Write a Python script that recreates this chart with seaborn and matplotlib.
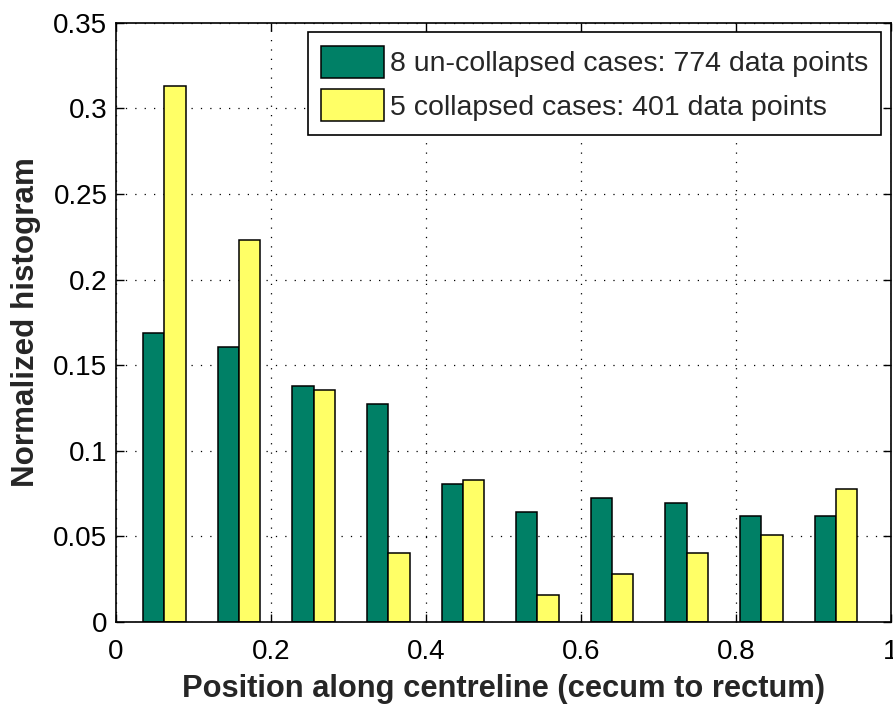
import matplotlib
matplotlib.use("Agg")
import matplotlib.pyplot as plt
import pandas as pd
import seaborn as sns
from matplotlib.ticker import FixedLocator, FixedFormatter

# Normalized histograms of positions along the colon centreline
bin_centres = [0.0628, 0.1590, 0.2553, 0.3516, 0.4478, 0.5441, 0.6403, 0.7365, 0.8328, 0.9290]
uncollapsed = [0.1687, 0.1605, 0.1377, 0.1272, 0.0808, 0.0643, 0.0725, 0.0695, 0.0620, 0.0620]
collapsed = [0.3129, 0.2233, 0.1358, 0.0401, 0.0828, 0.0156, 0.0279, 0.0401, 0.0507, 0.0776]
series_labels = ["8 un-collapsed cases: 774 data points",
                 "5 collapsed cases: 401 data points"]
series_colors = ["#008066", "#FFFF66"]

x_ticks = [0, 0.2, 0.4, 0.6, 0.8, 1.0]
x_tick_labels = ["0", "0.2", "0.4", "0.6", "0.8", "1"]
y_ticks = [0, 0.05, 0.10, 0.15, 0.20, 0.25, 0.30, 0.35]
y_tick_labels = ["0", "0.05", "0.1", "0.15", "0.2", "0.25", "0.3", "0.35"]

x_label = "Position along centreline (cecum to rectum)"
y_label = "Normalized histogram"

df = pd.DataFrame({
    "position": bin_centres * 2,
    "value": uncollapsed + collapsed,
    "series": [series_labels[0]] * len(bin_centres) + [series_labels[1]] * len(bin_centres),
})

sns.set_style("ticks")
plt.rcParams["font.family"] = ["Liberation Sans", "DejaVu Sans"]
plt.rcParams["xtick.direction"] = "in"
plt.rcParams["ytick.direction"] = "in"

fig = plt.figure(figsize=(8.93, 7.09), dpi=100)
ax = fig.add_axes([0.1296, 0.1227, 0.868, 0.845])

sns.barplot(
    data=df, x="position", y="value", hue="series",
    hue_order=series_labels, palette=series_colors,
    native_scale=True, width=0.57, dodge=True,
    edgecolor="black", linewidth=1.1, saturation=1,
    errorbar=None, ax=ax,
)

ax.set_xlim(0, 1)
ax.set_ylim(0, 0.35)
ax.xaxis.set_major_locator(FixedLocator(x_ticks))
ax.xaxis.set_major_formatter(FixedFormatter(x_tick_labels))
ax.yaxis.set_major_locator(FixedLocator(y_ticks))
ax.yaxis.set_major_formatter(FixedFormatter(y_tick_labels))
ax.tick_params(axis="both", which="major", labelsize=20, length=6, width=1,
               color="black", labelcolor="black", top=True, right=True)
ax.tick_params(axis="x", pad=12)
ax.tick_params(axis="y", pad=6)

ax.set_axisbelow(True)
ax.grid(True, color="black", linestyle=(0, (1, 6.5)), linewidth=0.9)

for side in ["left", "right", "top", "bottom"]:
    ax.spines[side].set_visible(True)
    ax.spines[side].set_color("black")
    ax.spines[side].set_linewidth(1.2)

ax.set_xlabel(x_label, fontsize=22.2, fontweight="bold", labelpad=7)
ax.set_ylabel(y_label, fontsize=22.6, fontweight="bold", labelpad=9)

leg = ax.legend(loc="upper right", bbox_to_anchor=(1.0, 1.0), fontsize=20.5,
                frameon=True, fancybox=False, framealpha=1, edgecolor="black",
                handlelength=2.2, handleheight=1.35, handletextpad=0.2,
                labelspacing=0.4, borderpad=0.48, borderaxespad=0.33)
leg.get_frame().set_linewidth(1.2)
leg.set_title(None)

fig.savefig("out.png", dpi=100)
